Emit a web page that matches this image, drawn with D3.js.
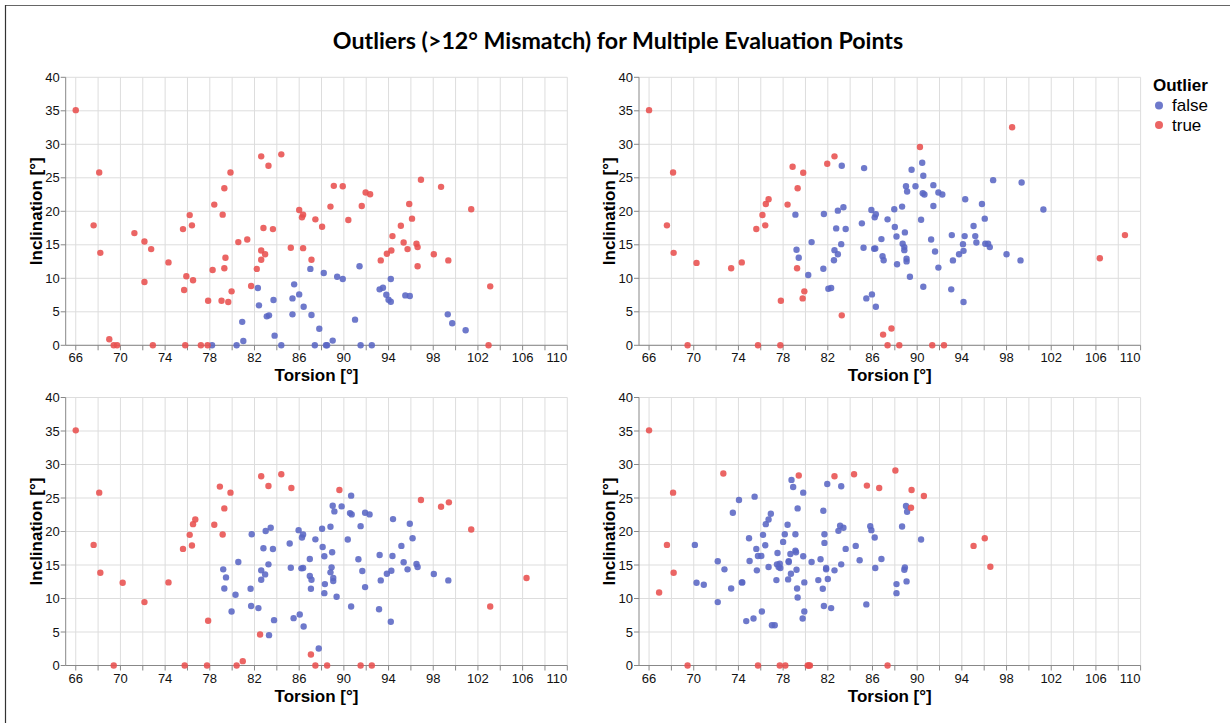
<!DOCTYPE html>
<html>
<head>
<meta charset="utf-8">
<script src="https://cdn.jsdelivr.net/npm/d3@7"></script>
<style>
  body { margin: 0; background: #fff; }
  svg { display: block; }
</style>
</head>
<body>
<div id="chart"></div>
<script>
// [torsion, inclination] pairs, split by outlier flag
var topLeftFalse = [
  [78.2,0],[80.4,0],[80.9,3.5],[81.0,0.65],[82.3,8.55],[82.4,5.96],[83.1,4.32],[83.3,4.47],
  [83.7,6.76],[83.8,1.44],[84.4,0],[85.4,7.0],[85.55,9.1],[85.4,4.62],[86.0,7.6],[86.4,5.76],
  [87.0,11.4],[87.1,4.52],[87.4,0],[87.8,2.48],[88.2,10.8],[88.4,0],[88.5,0],[89.0,0.7],
  [89.4,10.24],[89.9,9.9],[91.0,3.83],[91.4,11.8],[91.5,0],[92.5,0],[93.2,8.35],[93.5,8.6],
  [93.8,7.55],[94.0,6.8],[94.2,6.5],[94.2,9.9],[95.5,7.45],[95.9,7.35],[99.3,4.62],[99.7,3.28],
  [100.9,2.24]
];
var topLeftTrue = [
  [66.0,35.1],[67.6,17.9],[68.1,25.8],[68.2,13.8],[71.25,16.75],[72.15,15.5],[72.15,9.44],[72.75,14.36],
  [74.3,12.37],[69.0,0.9],[69.4,0],[69.7,0],[72.9,0],[75.6,17.34],[76.2,19.43],[76.4,17.9],
  [75.9,10.3],[75.7,8.25],[76.5,9.7],[75.8,0],[77.2,0],[77.8,0],[77.85,6.66],[78.4,21.0],
  [78.25,11.23],[79.15,19.5],[79.3,23.45],[79.4,13.07],[79.3,11.5],[79.05,6.66],[79.65,6.46],[79.95,8.05],
  [79.85,25.8],[80.55,15.4],[81.35,15.8],[81.7,8.84],[82.2,11.4],[82.6,28.2],[82.8,17.5],[82.6,14.16],
  [82.6,12.77],[82.95,13.6],[83.25,26.8],[83.65,17.34],[84.4,28.5],[85.25,14.56],[86.0,20.2],[86.35,19.5],
  [86.25,19.1],[86.35,14.5],[87.45,18.8],[87.1,12.77],[88.05,17.7],[88.8,20.7],[89.1,23.8],[89.9,23.75],
  [90.4,18.7],[91.6,20.8],[91.95,22.8],[92.35,22.55],[93.3,12.67],[93.85,13.66],[94.25,14.16],[94.35,16.3],
  [95.1,17.85],[95.35,15.35],[95.7,14.36],[95.85,21.1],[96.1,18.9],[96.5,15.16],[96.6,14.66],[96.6,11.8],
  [96.9,24.7],[98.05,13.6],[98.7,23.65],[99.35,12.67],[101.4,20.3],[103.1,8.8],[102.95,0]
];
var topRightFalse = [
  [79.1,19.5],[79.2,14.26],[79.4,13.07],[80.25,10.5],[80.55,15.4],[81.65,19.6],[81.6,11.43],[82.05,8.45],
  [82.3,8.55],[82.6,14.2],[82.55,12.7],[82.75,17.45],[82.9,20.1],[82.9,13.6],[83.2,15.1],[83.25,26.8],
  [83.4,20.6],[83.6,17.35],[85.05,18.2],[85.2,14.56],[85.25,26.45],[85.45,7.0],[85.95,7.6],[85.9,20.2],
  [86.15,14.4],[86.25,14.46],[86.2,19.1],[86.3,19.55],[86.3,5.76],[86.8,15.85],[86.9,13.3],[87.0,12.7],
  [87.35,18.8],[87.95,20.3],[88.0,17.65],[88.15,16.25],[88.2,12.1],[88.65,20.7],[88.7,15.16],[88.85,14.66],
  [88.85,14.2],[88.9,16.85],[89.0,23.75],[89.1,22.95],[89.05,12.92],[89.05,12.52],[89.35,10.24],[89.5,26.2],
  [89.85,23.75],[90.35,18.75],[90.45,27.25],[90.55,25.3],[90.5,22.7],[90.65,22.5],[90.55,8.75],[91.25,15.8],
  [91.45,23.9],[91.45,20.8],[91.6,14.0],[91.9,22.8],[92.25,22.5],[91.9,11.6],[93.05,8.35],[93.1,16.45],
  [93.2,12.67],[93.75,13.6],[94.1,15.1],[94.15,14.1],[94.25,16.3],[94.15,6.46],[94.3,21.8],[95.05,17.8],
  [95.2,16.3],[95.3,15.35],[95.8,21.1],[96.05,18.9],[96.1,15.16],[96.35,15.16],[96.5,14.66],[96.8,24.65],
  [98.0,13.6],[99.25,12.67],[99.35,24.3],[101.3,20.27]
];
var topRightTrue = [
  [66.0,35.1],[67.6,17.9],[68.15,25.8],[68.2,13.8],[69.45,0],[70.25,12.3],[73.35,11.5],[74.3,12.37],
  [75.6,17.35],[76.15,19.45],[76.4,17.9],[76.45,21.1],[76.7,21.8],[75.75,0],[77.75,0],[77.8,6.66],
  [78.4,21.0],[78.85,26.65],[79.3,23.45],[79.25,11.5],[79.8,25.75],[79.9,8.05],[79.75,7.0],[81.95,27.1],
  [82.6,28.2],[83.25,4.47],[86.95,1.6],[87.35,0],[87.7,2.5],[88.4,0],[90.25,29.6],[98.5,32.55],
  [91.35,0],[92.4,0],[106.35,13.0],[108.6,16.45]
];
var bottomLeftFalse = [
  [79.2,14.35],[79.45,13.15],[79.3,11.5],[79.95,8.07],[80.3,10.56],[80.55,15.44],[81.75,19.6],[81.65,11.46],
  [81.7,8.87],[82.35,8.57],[82.6,14.2],[82.6,12.8],[82.8,17.5],[83.0,20.07],[82.95,13.6],[83.25,15.1],
  [83.45,20.57],[83.3,4.53],[83.65,17.38],[83.75,6.77],[85.15,18.2],[85.25,14.6],[85.5,7.07],[86.05,7.62],
  [85.95,20.2],[86.2,14.5],[86.35,14.55],[86.25,19.1],[86.35,19.55],[86.4,5.83],[86.95,15.9],[86.95,13.35],
  [87.1,12.8],[87.05,11.46],[87.45,18.83],[87.75,2.54],[88.05,20.42],[88.1,17.68],[88.25,16.3],[88.3,12.15],
  [88.25,10.8],[88.8,20.7],[88.95,16.9],[88.9,14.65],[88.8,13.9],[89.0,23.85],[89.15,23.0],[89.05,13.05],
  [89.05,12.6],[89.35,10.26],[89.8,23.75],[90.35,18.8],[90.55,22.75],[90.7,22.55],[90.65,25.35],[90.65,8.8],
  [91.3,15.85],[91.5,20.8],[91.65,14.1],[91.9,22.8],[92.3,22.55],[91.9,11.7],[93.15,8.4],[93.2,16.5],
  [93.3,12.7],[93.85,13.7],[94.25,14.15],[94.35,16.35],[94.2,6.53],[94.4,21.85],[95.15,17.85],[95.35,15.4],
  [95.7,14.35],[95.9,21.15],[96.15,19.0],[96.5,15.15],[96.6,14.7],[98.05,13.65],[99.35,12.7]
];
var bottomLeftTrue = [
  [66.0,35.1],[67.6,18.0],[68.1,25.8],[68.2,13.85],[69.4,0],[70.2,12.35],[72.15,9.46],[74.3,12.4],
  [75.6,17.4],[76.2,19.5],[76.4,17.9],[76.5,21.1],[76.7,21.8],[75.75,0],[77.75,0],[77.85,6.67],
  [78.4,21.0],[78.9,26.7],[79.15,19.55],[79.3,23.45],[79.85,25.8],[80.4,0],[80.95,0.65],[82.5,4.63],
  [82.6,28.25],[83.25,26.8],[84.4,28.55],[85.3,26.5],[87.05,1.64],[87.45,0],[88.5,0],[89.6,26.2],
  [91.5,0],[92.5,0],[96.9,24.7],[98.7,23.7],[99.4,24.35],[101.4,20.3],[103.1,8.8],[106.35,13.05]
];
var bottomRightFalse = [
  [70.1,18.0],[70.25,12.35],[70.9,12.05],[72.15,15.55],[72.15,9.46],[72.75,14.35],[73.35,11.5],[73.5,22.8],
  [74.05,24.7],[74.3,12.4],[74.35,12.4],[74.7,6.63],[74.95,19.0],[75.0,15.6],[75.35,7.02],[75.45,25.2],
  [75.6,17.4],[75.65,14.2],[75.75,16.35],[76.05,16.35],[76.1,8.07],[76.2,19.5],[76.4,17.95],[76.45,21.1],
  [76.7,21.8],[76.7,14.7],[76.9,22.65],[77.0,6.0],[77.25,6.0],[77.4,12.75],[77.5,16.8],[77.45,15.1],
  [77.6,14.7],[77.7,15.2],[77.75,14.55],[78.0,18.45],[78.15,19.6],[78.4,21.0],[78.5,15.55],[78.5,15.45],
  [78.45,12.85],[78.7,13.7],[78.65,16.65],[78.75,27.7],[78.9,26.65],[79.1,17.15],[79.15,16.9],[79.1,19.6],
  [79.2,14.3],[79.25,11.5],[79.3,10.16],[79.3,23.45],[79.75,7.02],[79.9,8.07],[79.8,16.3],[79.9,12.4],
  [79.8,25.8],[80.55,15.45],[81.15,12.75],[81.35,15.85],[81.55,11.46],[81.65,8.87],[81.6,23.1],[81.7,19.6],
  [81.7,18.3],[81.85,14.55],[81.85,14.35],[82.0,12.9],[81.95,27.1],[82.3,8.57],[82.6,14.2],[82.95,20.1],
  [83.1,20.85],[83.2,26.75],[83.2,15.1],[83.4,20.55],[83.6,17.4],[84.5,17.85],[84.85,15.7],[85.45,9.12],
  [85.8,20.8],[85.9,20.2],[86.2,19.1],[86.25,14.55],[86.8,15.9],[88.15,12.15],[88.15,10.8],[88.65,20.75],
  [88.85,14.3],[88.9,14.65],[89.0,23.8],[89.1,22.95],[89.05,12.55],[90.35,18.8]
];
var bottomRightTrue = [
  [66.0,35.1],[66.9,10.9],[67.6,18.0],[68.15,25.8],[68.2,13.85],[69.45,0],[72.65,28.65],[75.75,0],
  [77.7,0],[78.2,0],[79.4,28.35],[80.2,0],[80.3,0],[80.4,0],[82.6,28.25],[84.35,28.55],
  [85.5,26.85],[86.6,26.5],[87.35,0],[88.05,29.1],[89.5,26.2],[89.45,23.55],[90.6,25.3],[95.05,17.85],
  [96.05,19.0],[96.55,14.75]
];

var xTickLabels = [66, 70, 74, 78, 82, 86, 90, 94, 98, 102, 106, 110];
var xGridValues = d3.range(66, 111, 2);
var yTickLabels = [0, 5, 10, 15, 20, 25, 30, 35, 40];
var legendItems = ['false', 'true'];

var width = 1230, height = 723;
var plotW = 501.6, plotH = 268;
var color = { 'false': '#5a66c4', 'true': '#e8504f' };

var panels = [
  { left: 65.7, top: 77.3, pts: [topLeftFalse, topLeftTrue] },
  { left: 639, top: 77.3, pts: [topRightFalse, topRightTrue] },
  { left: 65.7, top: 397.5, pts: [bottomLeftFalse, bottomLeftTrue] },
  { left: 639, top: 397.5, pts: [bottomRightFalse, bottomRightTrue] }
];

var svg = d3.select('#chart').append('svg')
  .attr('width', width)
  .attr('height', height)
  .style('font-family', '"Liberation Sans", Arial, sans-serif');

// frame edges visible in the picture (top and left)
svg.append('line').attr('x1', 5.5).attr('x2', width).attr('y1', 5.5).attr('y2', 5.5)
  .attr('stroke', '#666').attr('stroke-width', 1);
svg.append('line').attr('x1', 5.5).attr('x2', 5.5).attr('y1', 5).attr('y2', height)
  .attr('stroke', '#333').attr('stroke-width', 1.2);

svg.append('text')
  .attr('x', 618).attr('y', 49)
  .attr('text-anchor', 'middle')
  .style('font-family', 'Lato, "Open Sans", sans-serif')
  .style('font-weight', 'bold')
  .style('font-size', '23.2px')
  .attr('fill', '#000')
  .text('Outliers (>12\u00b0 Mismatch) for Multiple Evaluation Points');

var x = d3.scaleLinear().domain([65.1, 110]).range([0, plotW]);
var y = d3.scaleLinear().domain([0, 40]).range([plotH, 0]);

panels.forEach(function (p) {
  var g = svg.append('g').attr('transform', 'translate(' + p.left + ',' + p.top + ')');

  g.append('g').selectAll('line').data(xGridValues).enter().append('line')
    .attr('x1', d => x(d)).attr('x2', d => x(d))
    .attr('y1', 0).attr('y2', plotH)
    .attr('stroke', '#ddd');
  g.append('g').selectAll('line').data(yTickLabels).enter().append('line')
    .attr('x1', 0).attr('x2', plotW)
    .attr('y1', d => y(d)).attr('y2', d => y(d))
    .attr('stroke', '#ddd');

  // x axis
  var xa = g.append('g').attr('transform', 'translate(0,' + plotH + ')');
  xa.append('line').attr('x1', 0).attr('x2', plotW).attr('stroke', '#888');
  xa.selectAll('line.tick').data(xGridValues).enter().append('line')
    .attr('class', 'tick')
    .attr('x1', d => x(d)).attr('x2', d => x(d))
    .attr('y1', 0).attr('y2', 5).attr('stroke', '#888');
  xa.selectAll('text').data(xTickLabels).enter().append('text')
    .attr('x', d => x(d)).attr('y', 17)
    .attr('text-anchor', d => d === 110 ? 'end' : 'middle')
    .style('font-size', '13px').attr('fill', '#111')
    .text(d => d);
  xa.append('text')
    .attr('x', plotW / 2).attr('y', 36)
    .attr('text-anchor', 'middle')
    .style('font-size', '17px').style('font-weight', 'bold')
    .text('Torsion [\u00b0]');

  // y axis
  var ya = g.append('g');
  ya.append('line').attr('y1', 0).attr('y2', plotH).attr('stroke', '#888');
  ya.selectAll('line.tick').data(yTickLabels).enter().append('line')
    .attr('class', 'tick')
    .attr('x1', -5).attr('x2', 0)
    .attr('y1', d => y(d)).attr('y2', d => y(d)).attr('stroke', '#888');
  ya.selectAll('text').data(yTickLabels).enter().append('text')
    .attr('x', -6).attr('y', d => y(d) + 4.5)
    .attr('text-anchor', 'end')
    .style('font-size', '13px').attr('fill', '#111')
    .text(d => d);
  ya.append('text')
    .attr('transform', 'translate(-24,' + plotH / 2 + ') rotate(-90)')
    .attr('text-anchor', 'middle')
    .style('font-size', '17px').style('font-weight', 'bold')
    .text('Inclination [\u00b0]');

  // points
  p.pts.forEach(function (set, i) {
    g.append('g').selectAll('circle').data(set).enter().append('circle')
      .attr('cx', d => x(d[0]))
      .attr('cy', d => y(d[1]))
      .attr('r', 3.2)
      .attr('fill', color[legendItems[i]])
      .attr('fill-opacity', 0.88);
  });
});

// legend
var lg = svg.append('g').attr('transform', 'translate(1153,0)');
lg.append('text').attr('x', 0).attr('y', 91)
  .style('font-size', '17px').style('font-weight', 'bold')
  .text('Outlier');
lg.selectAll('circle').data(legendItems).enter().append('circle')
  .attr('cx', 6).attr('cy', (d, i) => 105.5 + i * 19.5)
  .attr('r', 4)
  .attr('fill', d => color[d]).attr('fill-opacity', 0.88);
lg.selectAll('text.lab').data(legendItems).enter().append('text')
  .attr('class', 'lab')
  .attr('x', 19).attr('y', (d, i) => 111 + i * 19.5)
  .style('font-size', '17px')
  .text(d => d);
</script>
</body>
</html>
